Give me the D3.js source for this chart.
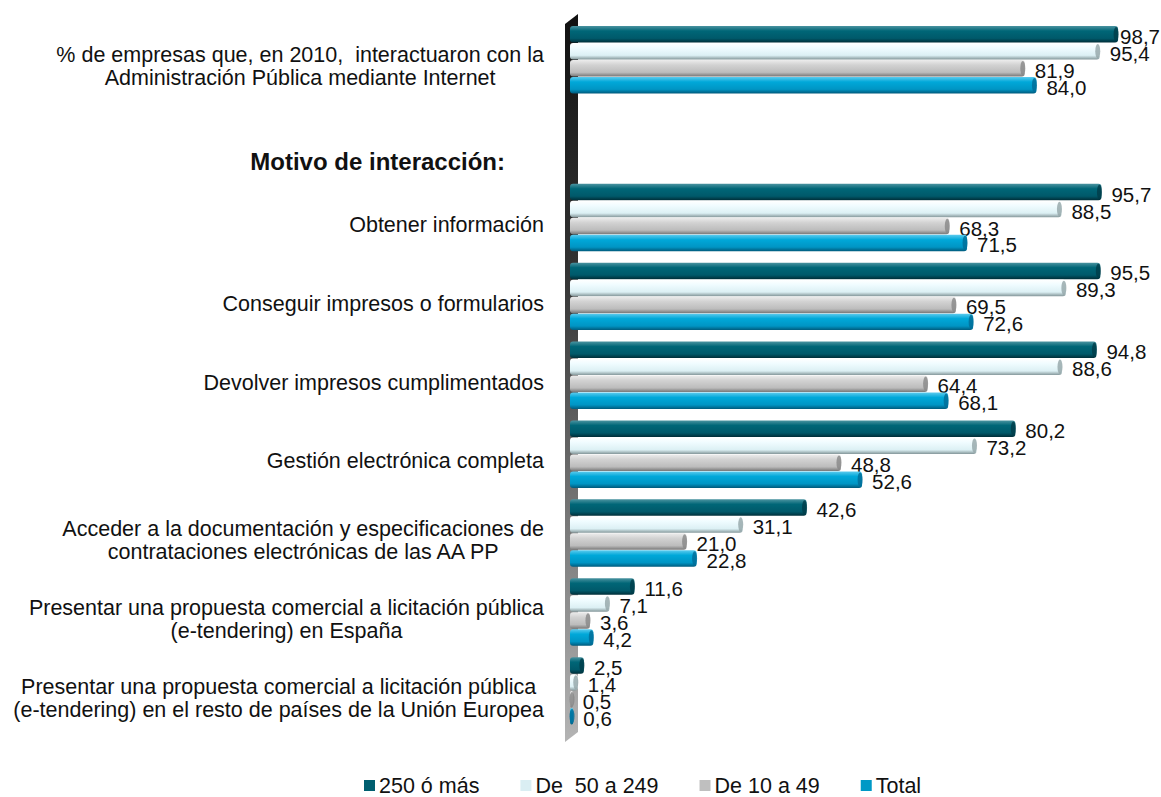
<meta charset="utf-8">
<title>Interacción con la Administración Pública</title>
<style>
  body { margin: 0; background: #fff; }
  svg { display: block; font-family: "Liberation Sans", Arial, sans-serif; }
</style>
<body>
<script src="https://cdn.jsdelivr.net/npm/d3@7"></script>
<script>
// data ==============================================================
var categories = [
  ["% de empresas que, en 2010,  interactuaron con la", "Administración Pública mediante Internet"],
  ["Motivo de interacción:"],
  ["Obtener información"],
  ["Conseguir impresos o formularios"],
  ["Devolver impresos cumplimentados"],
  ["Gestión electrónica completa"],
  ["Acceder a la documentación y especificaciones de", "contrataciones electrónicas de las AA PP"],
  ["Presentar una propuesta comercial a licitación pública", "(e-tendering) en España"],
  ["Presentar una propuesta comercial a licitación pública", "(e-tendering) en el resto de países de la Unión Europea"]
];
var series = ["250 ó más", "De  50 a 249", "De 10 a 49", "Total"];
// null = no bar (heading row)
var v250   = [98.7, null, 95.7, 95.5, 94.8, 80.2, 42.6, 11.6, 2.5];
var v50    = [95.4, null, 88.5, 89.3, 88.6, 73.2, 31.1, 7.1, 1.4];
var v10    = [81.9, null, 68.3, 69.5, 64.4, 48.8, 21.0, 3.6, 0.5];
var vTotal = [84.0, null, 71.5, 72.6, 68.1, 52.6, 22.8, 4.2, 0.6];
var values = [v250, v50, v10, vTotal];

var legendColor = ["#005f70", "#daeef3", "#bfbfbf", "#0099c6"];
// top / main / lower / edge for the cylinder look
var shades = [
  ["#4a93a0", "#006677", "#00596a", "#002e38"],
  ["#ffffff", "#f0fcff", "#dcf0f4", "#84979a"],
  ["#ececec", "#d2d2d2", "#bcbcbc", "#777777"],
  ["#5ccbee", "#00a8d9", "#0095c4", "#005a7c"]
];
var capColor = ["#003c48", "#94a5a8", "#878787", "#006c96"];
//==================================================================
var width = 1161,
    height = 797;

var svg = d3.select("body").append("svg")
    .attr("width", width)
    .attr("height", height);

var x = d3.scaleLinear().domain([0, 100]).range([570, 1125.3]);

var y = d3.scaleBand()
    .domain(d3.range(categories.length))
    .range([20.5, 730.6])
    .paddingInner(0.139)
    .paddingOuter(0.07);

var ySub = d3.scaleBand()
    .domain(d3.range(series.length))
    .range([0, y.bandwidth()]);

var defs = svg.append("defs");
shades.forEach(function(s, i) {
  var g = defs.append("linearGradient").attr("id", "grad" + i)
      .attr("x1", 0).attr("y1", 0).attr("x2", 0).attr("y2", 1);
  g.append("stop").attr("offset", "0%").attr("stop-color", s[0]);
  g.append("stop").attr("offset", "30%").attr("stop-color", s[1]);
  g.append("stop").attr("offset", "75%").attr("stop-color", s[2]);
  g.append("stop").attr("offset", "100%").attr("stop-color", s[3]);
});
var wg = defs.append("linearGradient").attr("id", "wall")
    .attr("x1", 0).attr("y1", 0).attr("x2", 0).attr("y2", 1);
wg.append("stop").attr("offset", "0%").attr("stop-color", "#111");
wg.append("stop").attr("offset", "35%").attr("stop-color", "#333");
wg.append("stop").attr("offset", "100%").attr("stop-color", "#b4b4b4");

// axis wall
svg.append("polygon")
    .attr("points", [[565, 24], [578, 14], [578, 732], [565, 742]].join(" "))
    .style("fill", "url(#wall)");

// bars
var barH = ySub.bandwidth() - 0.5;
categories.forEach(function(c, ci) {
  series.forEach(function(s, si) {
    var v = values[si][ci];
    if (v == null) return;
    var y0 = y(ci) + ySub(si);
    var x1 = x(v);
    var g = svg.append("g");
    g.append("rect")
        .attr("x", x(0))
        .attr("y", y0)
        .attr("width", Math.max(x1 - x(0), 3))
        .attr("height", barH)
        .attr("rx", 3)
        .style("fill", "url(#grad" + si + ")");
    g.append("ellipse")
        .attr("cx", Math.max(x1 - 2, x(0) + 2))
        .attr("cy", y0 + barH / 2)
        .attr("rx", 2.5)
        .attr("ry", barH / 2 - 1)
        .style("fill", capColor[si])
        .style("opacity", 0.8);

    var lbl = svg.append("text")
        .attr("y", y0 + barH / 2 + 9.5)
        .style("font-size", "20.5px")
        .style("fill", "#111")
        .text(d3.format(".1f")(v).replace(".", ","));
    var w = lbl.node().getComputedTextLength();
    lbl.attr("x", Math.min(x1 + 10, width - 1 - w));
  });
});

// category labels (lines centred inside a right-aligned block)
var labelRight = 544, lineH = 23;
categories.forEach(function(lines, ci) {
  var heading = values.every(function(s) { return s[ci] == null; });
  var cy = y(ci) + y.bandwidth() / 2;
  var t = svg.append("text")
      .style("font-size", heading ? "24px" : "21.5px")
      .style("font-weight", heading ? "bold" : "normal")
      .style("white-space", "pre")
      .style("fill", "#111")
      .attr("text-anchor", "middle");
  var widths = lines.map(function(l) {
    return t.append("tspan").text(l).node().getComputedTextLength();
  });
  var maxW = d3.max(widths);
  var right = heading ? labelRight - 39 : labelRight;
  var base = heading ? cy + 31 : cy + 14;
  t.selectAll("tspan")
      .attr("x", right - maxW / 2)
      .attr("y", function(d, i) { return base + (i - (lines.length - 1) / 2) * lineH; });
});

// legend
var legend = svg.append("g");
var lx = 0;
series.forEach(function(s, i) {
  legend.append("rect")
      .attr("x", lx).attr("y", -6)
      .attr("width", 11).attr("height", 11)
      .style("fill", legendColor[i]);
  var t = legend.append("text")
      .attr("x", lx + 15).attr("y", 6.5)
      .style("font-size", "21.5px")
      .style("white-space", "pre")
      .style("fill", "#111")
      .text(s);
  lx += 15 + t.node().getComputedTextLength() + 41;
});
legend.attr("transform", "translate(364,786)");
</script>
</body>
